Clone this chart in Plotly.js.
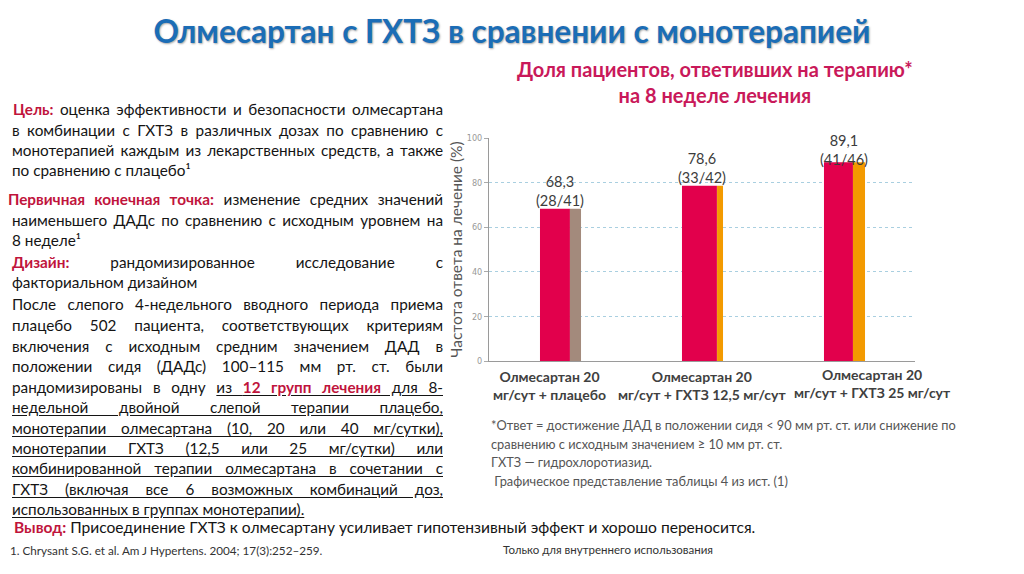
<!DOCTYPE html>
<html>
<head>
<meta charset="utf-8">
<script src="https://cdn.plot.ly/plotly-3.0.1.min.js"></script>
<style>
  html, body { margin: 0; padding: 0; background: #fff; }
  #wrap { position: relative; width: 1024px; height: 574px; overflow: hidden; }
  #chart { position: absolute; left: 0; top: 0; width: 1024px; height: 574px; }
  #txt { position: absolute; left: 0; top: 0; width: 1024px; height: 574px; pointer-events: none;
         font-family: Lato, 'Open Sans', sans-serif; color: #141414; }
  .ln { position: absolute; left: 12px; width: 431px; font-size: 15.3px; line-height: 21px;
        white-space: nowrap; text-align: justify; text-align-last: justify; }
  .ln.last { text-align-last: left; }
  .r { color: #c0143c; font-weight: bold; }
  .u { text-decoration: underline; text-underline-offset: 2px; }
</style>
</head>
<body>
<div id="wrap">
  <div id="chart"></div>
  <div id="txt"></div>
</div>
<script>
// ---------- data ----------
const categories = [
  'Олмесартан 20<br>мг/сут + плацебо',
  'Олмесартан 20<br>мг/сут + ГХТЗ 12,5 мг/сут',
  'Олмесартан 20<br>мг/сут + ГХТЗ 25 мг/сут'
];
const responseRate = [68.3, 78.6, 89.1];
const responders = ['28/41', '33/42', '41/46'];
const yTicks = [0, 20, 40, 60, 80, 100];

const mainTitle = 'Олмесартан с ГХТЗ в сравнении с монотерапией';
const chartTitle = 'Доля пациентов, ответивших на терапию*<br>на 8 неделе лечения';
const yTitle = 'Частота ответа на лечение (%)';
const footnotes = [
  '*Ответ = достижение ДАД в положении сидя < 90 мм рт. ст. или снижение по',
  'сравнению с исходным значением ≥ 10 мм рт. ст.',
  'ГХТЗ — гидрохлоротиазид.',
  ' Графическое представление таблицы 4 из ист. (1)'
];

// ---------- styles ----------
const mainColor = '#e2004c';
const sideColors = ['#a38a7c', '#f39a00', '#f39a00'];
const mainOffset = [-0.141, -0.141, -0.141];
const mainWidth = [0.211, 0.246, 0.204];
const sideOffset = [0.070, 0.106, 0.063];
const sideWidth = [0.078, 0.042, 0.085];
const labelShift = [-2, -2, -8];
const catShiftX = [-11, 0, 28];
const catShiftY = [-5, -5, -3];
const FONT = 'Lato, "Open Sans", sans-serif';

const fmt = v => v.toFixed(1).replace('.', ',');

const traces = [
  { type: 'bar', x: categories, y: responseRate, width: mainWidth, offset: mainOffset,
    marker: { color: mainColor }, hoverinfo: 'skip' },
  { type: 'bar', x: categories, y: responseRate, width: sideWidth, offset: sideOffset,
    marker: { color: sideColors }, hoverinfo: 'skip' }
];

const annotations = [];
categories.forEach((c, i) => {
  annotations.push({
    x: c, y: responseRate[i], xref: 'x', yref: 'y', yanchor: 'bottom',
    text: fmt(responseRate[i]) + '<br>(' + responders[i] + ')', showarrow: false,
    yshift: labelShift[i], font: { family: FONT, size: 14.5, color: '#3c3c3c' }
  });
  annotations.push({
    x: c, y: 0, xref: 'x', yref: 'paper', yanchor: 'top', text: '<b>' + c + '</b>',
    showarrow: false, xshift: catShiftX[i], yshift: catShiftY[i],
    font: { family: FONT, size: 14, color: '#404040' }
  });
});
// chart title
annotations.push({
  xref: 'paper', yref: 'paper', x: 0.53, y: 1, yanchor: 'middle', xanchor: 'center',
  yshift: 138 - 81.5, text: '<b>' + chartTitle + '</b>', showarrow: false,
  font: { family: FONT, size: 20, color: '#c9195a' }
});
// footnotes
footnotes.forEach((t, i) => {
  annotations.push({
    xref: 'paper', yref: 'paper', x: 0, y: 0, xanchor: 'left', yanchor: 'middle',
    xshift: 0, yshift: -(425 - 361) - i * 18.7, text: t, showarrow: false,
    font: { family: FONT, size: 12.8, color: '#555555' }
  });
});

const layout = {
  width: 1024, height: 574,
  margin: { l: 489, r: 109, t: 138, b: 213, pad: 0 },
  paper_bgcolor: '#ffffff', plot_bgcolor: '#ffffff',
  showlegend: false, barmode: 'overlay',
  title: { text: '<b>' + mainTitle + '</b>', x: 0.5, xanchor: 'center', y: 1 - 32 / 574,
           yanchor: 'middle', yref: 'container',
           font: { family: FONT, size: 31.5, color: '#1b6db6', shadow: '1px 1px 2px rgba(0,0,0,0.35)' } },
  xaxis: { type: 'category', range: [-0.5, 2.5], showticklabels: false, ticks: '',
           showline: true, linecolor: '#9a9a9a', linewidth: 1, showgrid: false, zeroline: false,
           fixedrange: true },
  yaxis: { range: [0, 100], tickvals: yTicks, ticks: 'outside', ticklen: 4, tickcolor: '#aaaaaa',
           showline: true, linecolor: '#9a9a9a', linewidth: 1,
           showgrid: true, gridcolor: '#a9cfe0', griddash: 'dot', gridwidth: 1, zeroline: false,
           tickfont: { family: '"Liberation Sans Narrow", "DejaVu Sans Condensed", sans-serif', size: 9, color: '#999999' },
           title: { text: yTitle, standoff: 0, font: { family: FONT, size: 15.5, color: '#555555' } },
           fixedrange: true },
  annotations: annotations
};

Plotly.newPlot('chart', traces, layout, { displayModeBar: false, staticPlot: true });

// ---------- slide text ----------
const R = s => '<span class="r">' + s + '</span>';
const U = s => '<span class="u">' + s + '</span>';
const bodyLines = [
  [110, R('Цель:') + ' оценка эффективности и безопасности олмесартана', '', 13],
  [131, 'в комбинации с ГХТЗ в различных дозах по сравнению с', '', 12],
  [151, 'монотерапией каждым из лекарственных средств, а также', '', 12],
  [171, 'по сравнению с плацебо¹', 'last', 12],
  [200, R('Первичная конечная точка:') + ' изменение средних значений', '', 8],
  [221, 'наименьшего ДАДс по сравнению с исходным уровнем на', '', 12],
  [241, '8 неделе¹', 'last', 12],
  [263, R('Дизайн:') + ' рандомизированное исследование с', '', 12],
  [283, 'факториальном дизайном', 'last', 12],
  [305, 'После слепого 4-недельного вводного периода приема', '', 12],
  [326, 'плацебо 502 пациента, соответствующих критериям', '', 12],
  [347, 'включения с исходным средним значением ДАД в', '', 12],
  [367, 'положении сидя (ДАДс) 100–115 мм рт. ст. были', '', 12],
  [388, 'рандомизированы в одну ' + U('из ' + R('12 групп лечения') + ' для 8-'), '', 12],
  [408, U('недельной двойной слепой терапии плацебо,'), '', 12],
  [429, U('монотерапии олмесартана (10, 20 или 40 мг/сутки),'), '', 12],
  [449, U('монотерапии ГХТЗ (12,5 или 25 мг/сутки) или'), '', 12],
  [469, U('комбинированной терапии олмесартана в сочетании с'), '', 12],
  [490, U('ГХТЗ (включая все 6 возможных комбинаций доз,'), '', 12],
  [510, U('использованных в группах монотерапии).'), 'last', 12]
];
const conclusion = R('Вывод:') + ' Присоединение ГХТЗ к олмесартану усиливает гипотензивный эффект и хорошо переносится.';
const reference = '1. Chrysant S.G. et al. Am J Hypertens. 2004; 17(3):252–259.';
const internal = 'Только для внутреннего использования';

const txt = document.getElementById('txt');
bodyLines.forEach(([y, html, cls, x]) => {
  const d = document.createElement('div');
  d.className = 'ln' + (cls ? ' ' + cls : '');
  d.style.top = (y - 11) + 'px';
  d.style.left = x + 'px';
  d.style.width = (443 - x) + 'px';
  d.innerHTML = html;
  txt.appendChild(d);
});
const c = document.createElement('div');
c.className = 'ln last';
c.style.cssText = 'top:' + (528 - 11) + 'px;left:14px;width:800px;font-size:15.6px;';
c.innerHTML = conclusion;
txt.appendChild(c);
const r1 = document.createElement('div');
r1.style.cssText = 'position:absolute;top:542px;left:10px;font-size:11.7px;line-height:16px;color:#333;white-space:nowrap;';
r1.textContent = reference;
txt.appendChild(r1);
const r2 = document.createElement('div');
r2.style.cssText = 'position:absolute;top:542px;left:503px;font-size:11.5px;line-height:16px;color:#333;white-space:nowrap;';
r2.textContent = internal;
txt.appendChild(r2);
</script>
</body>
</html>
